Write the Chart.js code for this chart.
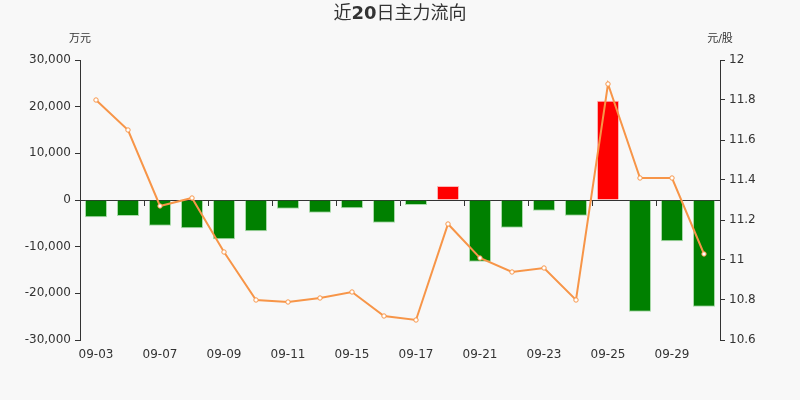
<!DOCTYPE html>
<html>
<head>
<meta charset="utf-8">
<script src="https://cdn.jsdelivr.net/npm/chart.js@4/dist/chart.umd.min.js"></script>
<style>
html,body{margin:0;padding:0;background:#f8f8f8;}
#wrap{width:800px;height:400px;position:relative;}
</style>
</head>
<body>
<div id="wrap"><canvas id="c" width="800" height="400"></canvas></div>
<script>
const categories = ['09-03','09-04','09-07','09-08','09-09','09-10','09-11','09-14','09-15','09-16','09-17','09-18','09-21','09-22','09-23','09-24','09-25','09-28','09-29','09-30'];
const mainFlow = [-3700,-3430,-5500,-6070,-8430,-6710,-1860,-2710,-1790,-4860,-1070,3000,-13210,-5930,-2290,-3360,21290,-23930,-8860,-22860];
const price = [11.80,11.65,11.27,11.31,11.04,10.80,10.79,10.81,10.84,10.72,10.70,11.18,11.01,10.94,10.96,10.80,11.88,11.41,11.41,11.03];
const leftTicks = [-30000,-20000,-10000,0,10000,20000,30000];
const rightTicks = [10.6,10.8,11,11.2,11.4,11.6,11.8,12];
const titleParts = [['近','normal'],['20','bold'],['日主力流向','normal']];
const leftUnit = '万元';
const rightUnit = '元/股';

const FONT = "'DejaVu Sans','Noto Sans CJK SC',sans-serif";
const TXT = '#333';

const extras = {
  id: 'extras',
  afterDraw(chart) {
    const ctx = chart.ctx;
    ctx.save();
    ctx.textBaseline = 'middle';
    let total = 0;
    const widths = titleParts.map(([t, w]) => {
      ctx.font = w + ' 18px ' + FONT;
      const m = ctx.measureText(t).width;
      total += m;
      return m;
    });
    let x = 400 - total / 2;
    ctx.fillStyle = TXT;
    titleParts.forEach(([t, w], i) => {
      ctx.font = w + ' 18px ' + FONT;
      ctx.textAlign = 'left';
      ctx.fillText(t, x, 14);
      x += widths[i];
    });
    ctx.font = '11px ' + FONT;
    ctx.textAlign = 'center';
    ctx.fillText(leftUnit, chart.scales.y.right, 39);
    ctx.fillText(rightUnit, chart.scales.y1.left, 39);
    ctx.restore();
  }
};

new Chart(document.getElementById('c'), {
  data: {
    labels: categories,
    datasets: [
      {
        type: 'line',
        label: '价格',
        data: price,
        yAxisID: 'y1',
        xAxisID: 'x',
        borderColor: '#f79548',
        borderWidth: 2,
        pointRadius: 2.2,
        pointBackgroundColor: '#ffffff',
        pointBorderColor: '#f79548',
        pointBorderWidth: 1,
        tension: 0,
        order: 0
      },
      {
        type: 'bar',
        label: '主力流向',
        data: mainFlow,
        yAxisID: 'y',
        xAxisID: 'x',
        backgroundColor: mainFlow.map(v => v >= 0 ? '#ff0000' : '#008000'),
        borderColor: mainFlow.map(v => v >= 0 ? 'rgba(255,120,120,0.5)' : 'rgba(120,200,120,0.6)'),
        borderWidth: 1,
        borderSkipped: 'start',
        categoryPercentage: 1,
        barPercentage: 0.69,
        order: 1
      }
    ]
  },
  options: {
    responsive: false,
    animation: false,
    devicePixelRatio: 1,
    layout: { padding: { top: 60, left: 0, right: 0, bottom: 0 } },
    plugins: { legend: { display: false }, tooltip: { enabled: false } },
    scales: {
      x: {
        type: 'category',
        position: 'bottom',
        offset: true,
        border: { display: false },
        grid: { display: false, drawTicks: false },
        ticks: {
          autoSkip: false, maxRotation: 0, minRotation: 0, padding: 8,
          color: TXT, font: { size: 12, family: FONT },
          callback: (v, i) => i % 2 === 0 ? categories[i] : ''
        },
        afterFit: s => { s.height = 60; }
      },
      x2: {
        type: 'category',
        labels: categories,
        position: { y: 0 },
        offset: true,
        border: { display: true, color: TXT, width: 1 },
        grid: {
          offset: true,
          drawOnChartArea: false,
          drawTicks: true,
          tickLength: 5,
          color: c => (c.index % 2 === 0 ? TXT : 'rgba(0,0,0,0)')
        },
        ticks: { display: false, autoSkip: false }
      },
      y: {
        type: 'linear',
        position: 'left',
        min: -30000, max: 30000,
        afterBuildTicks: s => { s.ticks = leftTicks.map(v => ({ value: v })); },
        border: { display: true, color: TXT, width: 1 },
        grid: { drawOnChartArea: false, drawTicks: true, tickLength: 5, color: TXT },
        ticks: {
          color: TXT, padding: 4, font: { size: 12, family: FONT },
          callback: v => Number(v).toLocaleString('en-US')
        },
        afterFit: s => { s.width = 80; }
      },
      y1: {
        type: 'linear',
        position: 'right',
        min: 10.6, max: 12,
        afterBuildTicks: s => { s.ticks = rightTicks.map(v => ({ value: v })); },
        border: { display: true, color: TXT, width: 1 },
        grid: { drawOnChartArea: false, drawTicks: true, tickLength: 5, color: TXT },
        ticks: {
          color: TXT, padding: 4, font: { size: 12, family: FONT },
          callback: v => String(+Number(v).toFixed(1))
        },
        afterFit: s => { s.width = 80; }
      }
    }
  },
  plugins: [extras]
});
</script>
</body>
</html>
